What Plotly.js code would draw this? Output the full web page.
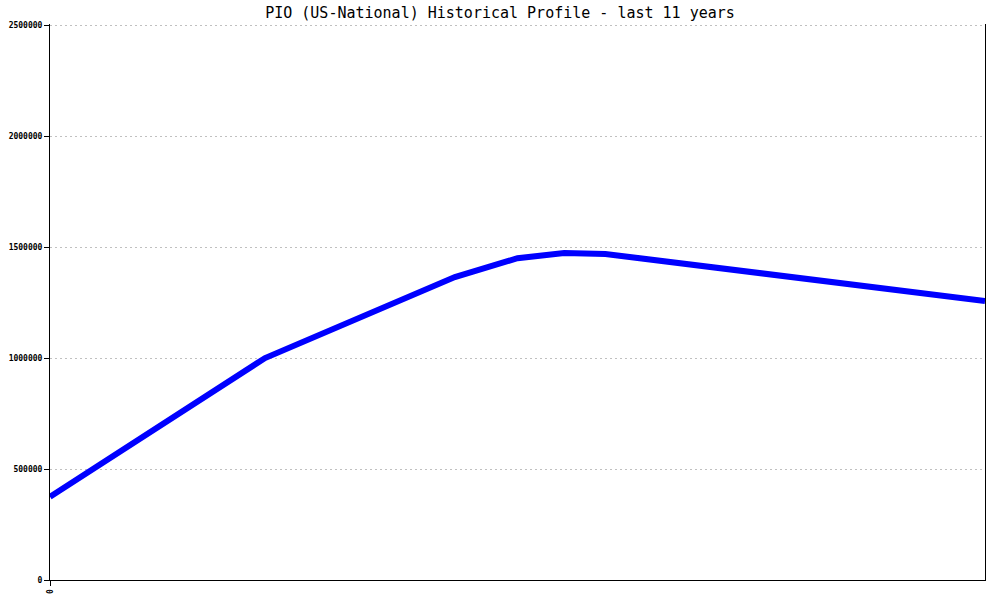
<!DOCTYPE html>
<html>
<head>
<meta charset="utf-8">
<script src="https://cdn.plot.ly/plotly-3.0.1.min.js"></script>
<style>html,body{margin:0;padding:0;background:#fff;}#chart{width:1000px;height:600px;}</style>
</head>
<body>
<div id="chart"></div>
<script>
// Time position (years from start) and values
const timeYears = [0, 2.3, 4.33, 5.0, 5.5, 5.94, 10];
const profileValues = [375000, 1000000, 1365000, 1450000, 1473000, 1469000, 1257000];
const yTickVals = [0, 500000, 1000000, 1500000, 2000000, 2500000];
const yTickText = ["0", "500000", "1000000", "1500000", "2000000", "2500000"];
const xTickVals = [0];
const xTickText = ["0"];

const trace = {
  x: timeYears,
  y: profileValues,
  type: 'scatter',
  mode: 'lines',
  line: {color: '#0000ff', width: 6},
  hoverinfo: 'skip'
};

const layout = {
  width: 1000, height: 600,
  margin: {l: 50, r: 15, t: 24, b: 20, pad: 0},
  paper_bgcolor: '#ffffff', plot_bgcolor: '#ffffff',
  showlegend: false,
  title: {
    text: 'PIO (US-National) Historical Profile - last 11 years',
    font: {family: 'DejaVu Sans Mono, monospace', size: 15, color: '#000'},
    x: 0.5, xanchor: 'center', y: 0.978, yanchor: 'middle'
  },
  xaxis: {
    range: [0, 10],
    tickvals: xTickVals, ticktext: xTickText,
    tickangle: -90,
    ticks: 'outside', ticklen: 5, tickcolor: '#000',
    showgrid: false, zeroline: false,
    showline: true, linecolor: '#000', linewidth: 1,
    tickfont: {family: 'DejaVu Sans Mono, monospace', size: 8, color: '#000', weight: 'bold'}
  },
  yaxis: {
    range: [0, 2505000],
    tickvals: yTickVals, ticktext: yTickText,
    ticks: 'outside', ticklen: 5, tickcolor: '#000',
    showgrid: true, gridcolor: '#c0c0c0', griddash: '2px,3px', gridwidth: 1,
    zeroline: false,
    showline: true, linecolor: '#000', linewidth: 1, mirror: true,
    tickfont: {family: 'DejaVu Sans Mono, monospace', size: 8, color: '#000', weight: 'bold'}
  }
};

Plotly.newPlot('chart', [trace], layout, {displayModeBar: false, staticPlot: true});
</script>
</body>
</html>
